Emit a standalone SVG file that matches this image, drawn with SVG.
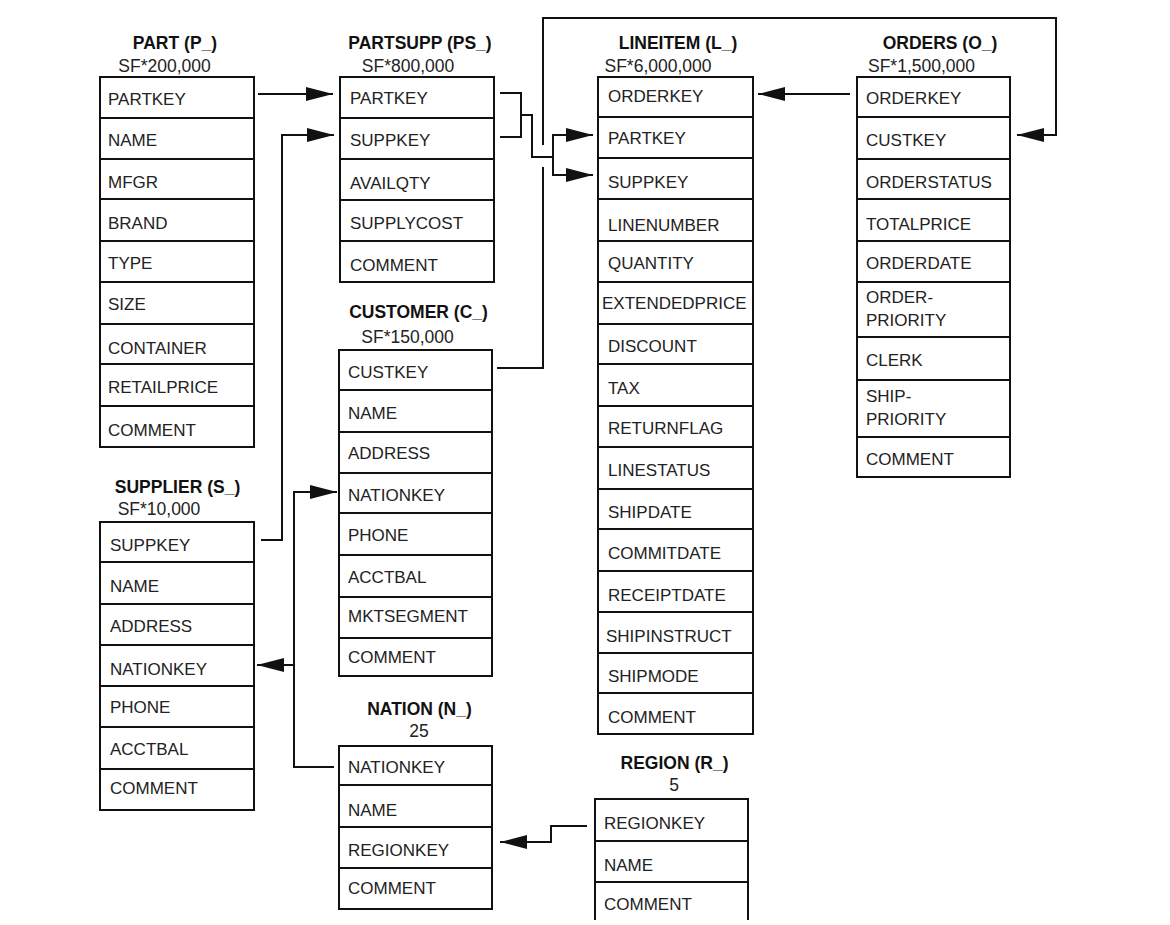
<svg xmlns="http://www.w3.org/2000/svg" width="1170" height="925" viewBox="0 0 1170 925">
<defs>
<style>
.box{fill:#fff;stroke:#111;stroke-width:2}
.div{stroke:#111;stroke-width:2.2;fill:none}
.t{font-family:"Liberation Sans",Arial,sans-serif;font-size:17px;fill:#222}
.h{font-family:"Liberation Sans",Arial,sans-serif;font-size:17.5px;font-weight:bold;fill:#111;text-anchor:middle}
.sf{font-family:"Liberation Sans",Arial,sans-serif;font-size:17.5px;fill:#222;text-anchor:middle}
.c{fill:none;stroke:#111;stroke-width:2}
</style>
<marker id="arr" markerUnits="userSpaceOnUse" markerWidth="27" markerHeight="14" refX="27" refY="7" orient="auto">
<path d="M0,0 L27,7 L0,14 z" fill="#111"/>
</marker>
</defs>
<rect width="1170" height="925" fill="#fff"/>

<g id="connectors">
<path class="c" d="M258,94 H333" marker-end="url(#arr)"/>
<path class="c" d="M261,540 H282 V135 H334" marker-end="url(#arr)"/>
<path class="c" d="M500,93 H521 V137 H500 M521,115 H532 V157 H553"/>
<path class="c" d="M553,157 V135 H593" marker-end="url(#arr)"/>
<path class="c" d="M553,157 V175 H593" marker-end="url(#arr)"/>
<path class="c" d="M497,368 H543 V167 M543,145 V18 H1056 V135 H1017" marker-end="url(#arr)"/>
<path class="c" d="M850,94 H758" marker-end="url(#arr)"/>
<path class="c" d="M334,767 H294 V492 H337" marker-end="url(#arr)"/>
<path class="c" d="M294,665 H257" marker-end="url(#arr)"/>
<path class="c" d="M587,826 H551 V842 H500" marker-end="url(#arr)"/>
</g>

<g id="part">
<text class="h" x="175" y="49">PART (P_)</text>
<text class="sf" x="164.5" y="72">SF*200,000</text>
<rect class="box" x="100" y="77" width="154" height="370"/>
<path class="div" d="M100,118H254M100,159H254M100,199H254M100,241H254M100,282H254M100,324H254M100,364H254M100,406H254"/>
<text class="t" x="108" y="105">PARTKEY</text>
<text class="t" x="108" y="146">NAME</text>
<text class="t" x="108" y="188">MFGR</text>
<text class="t" x="108" y="229">BRAND</text>
<text class="t" x="108" y="269">TYPE</text>
<text class="t" x="108" y="310">SIZE</text>
<text class="t" x="108" y="354">CONTAINER</text>
<text class="t" x="108" y="393">RETAILPRICE</text>
<text class="t" x="108" y="436">COMMENT</text>
</g>

<g id="partsupp">
<text class="h" x="420" y="49">PARTSUPP (PS_)</text>
<text class="sf" x="408" y="72">SF*800,000</text>
<rect class="box" x="340" y="77" width="154" height="205"/>
<path class="div" d="M340,118H494M340,159H494M340,200H494M340,241H494"/>
<text class="t" x="350" y="104">PARTKEY</text>
<text class="t" x="350" y="146">SUPPKEY</text>
<text class="t" x="350" y="189">AVAILQTY</text>
<text class="t" x="350" y="229">SUPPLYCOST</text>
<text class="t" x="350" y="271">COMMENT</text>
</g>

<g id="lineitem">
<text class="h" x="678" y="49">LINEITEM (L_)</text>
<text class="sf" x="658" y="72">SF*6,000,000</text>
<rect class="box" x="598" y="77" width="155" height="657"/>
<path class="div" d="M598,117H753M598,158H753M598,199H753M598,241H753M598,282H753M598,324H753M598,364H753M598,406H753M598,447H753M598,489H753M598,529H753M598,571H753M598,612H753M598,653H753M598,693H753"/>
<text class="t" x="608" y="102">ORDERKEY</text>
<text class="t" x="608" y="144">PARTKEY</text>
<text class="t" x="608" y="188">SUPPKEY</text>
<text class="t" x="608" y="231">LINENUMBER</text>
<text class="t" x="608" y="269">QUANTITY</text>
<text class="t" x="602" y="309">EXTENDEDPRICE</text>
<text class="t" x="608" y="352">DISCOUNT</text>
<text class="t" x="608" y="394">TAX</text>
<text class="t" x="608" y="434">RETURNFLAG</text>
<text class="t" x="608" y="476">LINESTATUS</text>
<text class="t" x="608" y="518">SHIPDATE</text>
<text class="t" x="608" y="559">COMMITDATE</text>
<text class="t" x="608" y="601">RECEIPTDATE</text>
<text class="t" x="606" y="642">SHIPINSTRUCT</text>
<text class="t" x="608" y="682">SHIPMODE</text>
<text class="t" x="608" y="723">COMMENT</text>
</g>

<g id="orders">
<text class="h" x="940" y="49">ORDERS (O_)</text>
<text class="sf" x="921.5" y="72">SF*1,500,000</text>
<rect class="box" x="857" y="77" width="153" height="400"/>
<path class="div" d="M857,117H1010M857,159H1010M857,199H1010M857,241H1010M857,282H1010M857,337H1010M857,380H1010M857,437H1010"/>
<text class="t" x="866" y="104">ORDERKEY</text>
<text class="t" x="866" y="146">CUSTKEY</text>
<text class="t" x="866" y="188">ORDERSTATUS</text>
<text class="t" x="866" y="230">TOTALPRICE</text>
<text class="t" x="866" y="269">ORDERDATE</text>
<text class="t" x="866" y="303">ORDER-</text>
<text class="t" x="866" y="326">PRIORITY</text>
<text class="t" x="866" y="366">CLERK</text>
<text class="t" x="866" y="402">SHIP-</text>
<text class="t" x="866" y="425">PRIORITY</text>
<text class="t" x="866" y="465">COMMENT</text>
</g>

<g id="customer">
<text class="h" x="418.5" y="318">CUSTOMER (C_)</text>
<text class="sf" x="407.5" y="343">SF*150,000</text>
<rect class="box" x="339" y="350" width="153" height="326"/>
<path class="div" d="M339,390H492M339,432H492M339,473H492M339,513H492M339,555H492M339,597H492M339,638H492"/>
<text class="t" x="348" y="378">CUSTKEY</text>
<text class="t" x="348" y="419">NAME</text>
<text class="t" x="348" y="459">ADDRESS</text>
<text class="t" x="348" y="501">NATIONKEY</text>
<text class="t" x="348" y="541">PHONE</text>
<text class="t" x="348" y="583">ACCTBAL</text>
<text class="t" x="348" y="622">MKTSEGMENT</text>
<text class="t" x="348" y="663">COMMENT</text>
</g>

<g id="supplier">
<text class="h" x="177.5" y="493">SUPPLIER (S_)</text>
<text class="sf" x="159" y="515">SF*10,000</text>
<rect class="box" x="100" y="522" width="154" height="288"/>
<path class="div" d="M100,562H254M100,604H254M100,645H254M100,686H254M100,727H254M100,769H254"/>
<text class="t" x="110" y="551">SUPPKEY</text>
<text class="t" x="110" y="592">NAME</text>
<text class="t" x="110" y="632">ADDRESS</text>
<text class="t" x="110" y="675">NATIONKEY</text>
<text class="t" x="110" y="713">PHONE</text>
<text class="t" x="110" y="755">ACCTBAL</text>
<text class="t" x="110" y="794">COMMENT</text>
</g>

<g id="nation">
<text class="h" x="419.5" y="715">NATION (N_)</text>
<text class="sf" x="419" y="737">25</text>
<rect class="box" x="339" y="746" width="153" height="163"/>
<path class="div" d="M339,785H492M339,827H492M339,868H492"/>
<text class="t" x="348" y="773">NATIONKEY</text>
<text class="t" x="348" y="816">NAME</text>
<text class="t" x="348" y="856">REGIONKEY</text>
<text class="t" x="348" y="894">COMMENT</text>
</g>

<g id="region">
<text class="h" x="674.5" y="769">REGION (R_)</text>
<text class="sf" x="674" y="791">5</text>
<path class="box" d="M595,920 V799 H748 V920"/>
<path class="div" d="M595,841H748M595,882H748"/>
<text class="t" x="604" y="829">REGIONKEY</text>
<text class="t" x="604" y="871">NAME</text>
<text class="t" x="604" y="910">COMMENT</text>
</g>
</svg>
